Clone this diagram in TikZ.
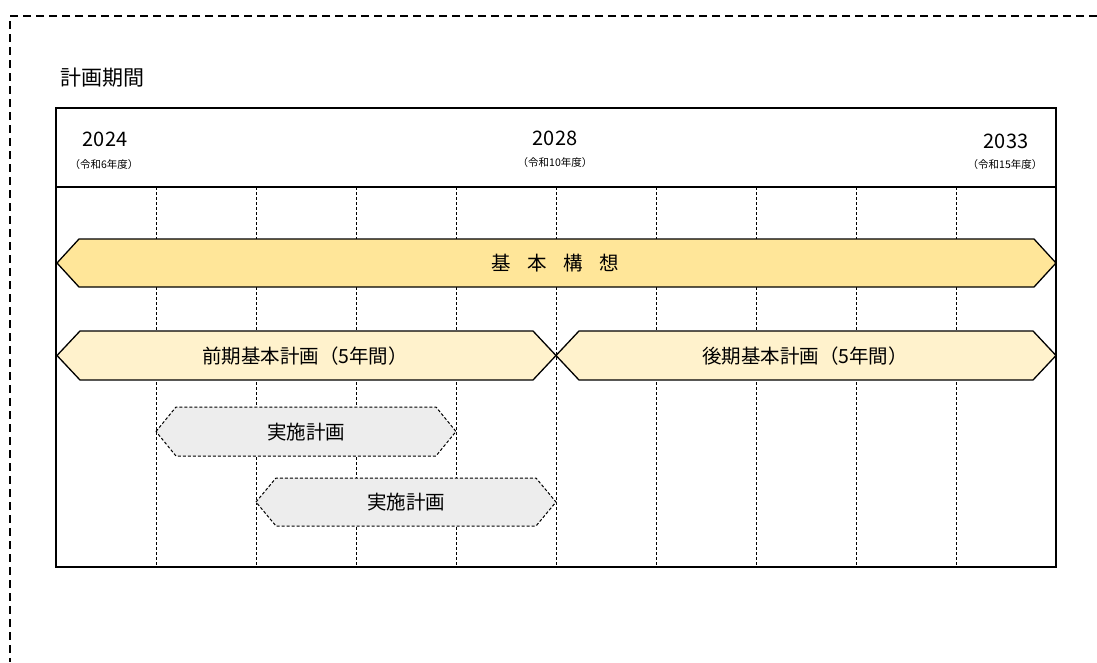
\documentclass[tikz,border=0pt]{standalone}
\usepackage{fontspec}
\setmainfont{Noto Sans CJK JP}
\definecolor{goldA}{HTML}{FFE699}
\definecolor{goldB}{HTML}{FFF2CC}
\definecolor{greyC}{HTML}{EDEDED}
\newcommand\hexpath[5]{(#1,{(#3+#4)/2}) -- (#1+#5,#3) -- (#2-#5,#3) -- (#2,{(#3+#4)/2}) -- (#2-#5,#4) -- (#1+#5,#4) -- cycle}
\begin{document}
\begin{tikzpicture}[x=1pt,y=-1pt,
  outerframe/.style={draw=black,line width=1.4pt,dash pattern=on 8pt off 5pt},
  gridline/.style={draw=black,line width=0.9pt,dash pattern=on 3pt off 2pt},
  barA/.style={draw=black,line width=1.3pt,fill=goldA,line join=miter},
  barB/.style={draw=black,line width=1.3pt,fill=goldB,line join=miter},
  barC/.style={draw=black,line width=1pt,fill=greyC,dash pattern=on 3pt off 2pt},
  bartext/.style={font=\fontsize{19.5}{19.5}\selectfont,inner sep=0pt},
  year/.style={font=\fontsize{20}{20}\selectfont,inner sep=0pt},
  nendo/.style={font=\fontsize{10.5}{10.5}\selectfont,inner sep=0pt}]
\useasboundingbox (0,0) rectangle (1097,662);
\draw[outerframe] (1097,16) -- (10,16) -- (10,662);
\node[anchor=west,font=\fontsize{21}{21}\selectfont,inner sep=0pt] (title) at (60,78) {計画期間};
% grid
\foreach \x in {156,256,...,956} \draw[gridline] (\x,187) -- (\x,567);
% bars
\path[barA] \hexpath{57}{1056}{239}{287}{22};
\node[bartext] (kihon) at (555,263) {基\hspace{0.85em}本\hspace{0.85em}構\hspace{0.85em}想};
\path[barB] \hexpath{57}{556}{331}{380}{23};
\path[barB] \hexpath{556}{1056}{331}{380}{23};
\node[bartext] (zenki) at (305,356) {前期基本計画（5年間）};
\node[bartext] (kouki) at (805,356) {後期基本計画（5年間）};
\path[barC] \hexpath{156}{456}{407}{456}{20};
\path[barC] \hexpath{256}{556}{478}{526}{20};
\node[bartext] (jisshiA) at (306,432) {実施計画};
\node[bartext] (jisshiB) at (406,502) {実施計画};
% header
\node[year] (yA) at (105,139) {2024};
\node[nendo] (nA) at (104,165) {（令和6年度）};
\node[year] (yB) at (555,138) {2028};
\node[nendo] (nB) at (555,163) {（令和10年度）};
\node[year] (yC) at (1006,141) {2033};
\node[nendo] (nC) at (1005,165) {（令和15年度）};
\draw[line width=2pt] (56,187) -- (1056,187);
\draw[line width=2.5pt] (56,108) rectangle (1056,567);
\end{tikzpicture}
\end{document}
